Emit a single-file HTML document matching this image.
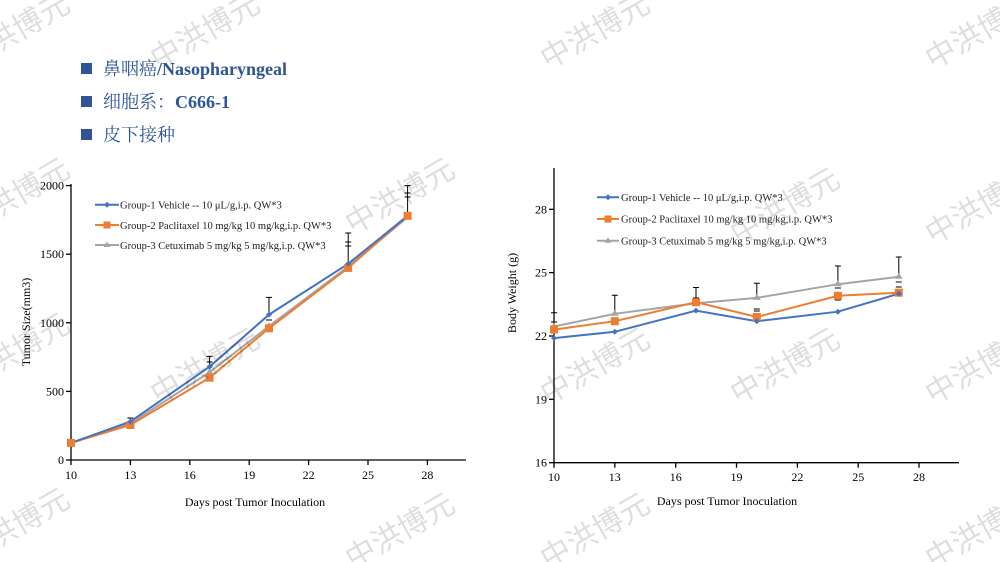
<!DOCTYPE html>
<html><head><meta charset="utf-8"><style>
html,body{margin:0;padding:0;background:#fff;}
svg{display:block;}
.wm{font-family:"Liberation Sans","Noto Sans CJK SC",sans-serif;font-size:30px;fill:#000;opacity:0.13;}
.t{font-family:"Liberation Serif","Noto Serif CJK SC",serif;font-size:12px;fill:#000;}
.lg{font-family:"Liberation Serif",serif;font-size:10.5px;fill:#222;}
.h{font-family:"Liberation Serif","Noto Serif CJK SC",serif;font-size:18px;fill:#2f5597;font-weight:bold;}
.hc{font-family:"Noto Serif CJK SC",serif;font-size:18px;fill:#2f5597;font-weight:normal;}
</style></head><body>
<svg width="1000" height="562" viewBox="0 0 1000 562" xmlns="http://www.w3.org/2000/svg">
<!-- header -->
<rect x="81" y="63" width="11" height="11" fill="#2f5597"/>
<rect x="81" y="96" width="11" height="11" fill="#2f5597"/>
<rect x="81" y="129" width="11" height="11" fill="#2f5597"/>
<text x="103" y="75" class="h"><tspan class="hc">鼻咽癌</tspan>/Nasopharyngeal</text>
<text x="103" y="108" class="h"><tspan class="hc">细胞系：</tspan>C666-1</text>
<text x="103" y="141" class="hc">皮下接种</text>

<!-- LEFT CHART -->
<g stroke="#000" stroke-width="1.3" fill="none">
<line x1="71" y1="184" x2="71" y2="460"/>
<line x1="71" y1="460" x2="466" y2="460"/>
<line x1="66" y1="460" x2="71" y2="460"/><line x1="66" y1="391.4" x2="71" y2="391.4"/><line x1="66" y1="322.8" x2="71" y2="322.8"/><line x1="66" y1="254.2" x2="71" y2="254.2"/><line x1="66" y1="185.6" x2="71" y2="185.6"/>
<line x1="71" y1="460" x2="71" y2="465"/><line x1="130.4" y1="460" x2="130.4" y2="465"/><line x1="189.8" y1="460" x2="189.8" y2="465"/><line x1="249.2" y1="460" x2="249.2" y2="465"/><line x1="308.6" y1="460" x2="308.6" y2="465"/><line x1="368" y1="460" x2="368" y2="465"/><line x1="427.4" y1="460" x2="427.4" y2="465"/>
</g>
<g class="t" text-anchor="end">
<text x="64" y="464">0</text><text x="64" y="395.4">500</text><text x="64" y="326.8">1000</text><text x="64" y="258.2">1500</text><text x="64" y="189.6">2000</text>
</g>
<g class="t" text-anchor="middle">
<text x="71" y="479">10</text><text x="130.4" y="479">13</text><text x="189.8" y="479">16</text><text x="249.2" y="479">19</text><text x="308.6" y="479">22</text><text x="368" y="479">25</text><text x="427.4" y="479">28</text>
<text x="255" y="506">Days post Tumor Inoculation</text>
<text transform="translate(30,322) rotate(-90)">Tumor Size(mm3)</text>
</g>
<!-- error bars left -->
<g stroke="#000" stroke-width="1" fill="none">
<path d="M130.4 421.6V418M127.4 418H133.4"/>
<path d="M209.6 366.7V356.4M206.6 356.4H212.6M206.6 362H212.6"/>
<path d="M269 314.6V297.4M266 297.4H272M266 320H272"/>
<path d="M348.2 263.8V233M345.2 233H351.2M345.2 242H351.2M345.2 246H351.2"/>
<path d="M407.6 215.8V185.6M404.6 185.6H410.6M404.6 193H410.6M404.6 197H410.6"/>
</g>
<polyline fill="none" stroke="#a5a5a5" stroke-width="2" points="71,442.9 130.4,423.6 209.6,372.2 269,326.2 348.2,266.5 407.6,217.2"/>
<polyline fill="none" stroke="#ed7d31" stroke-width="2" points="71,442.9 130.4,425 209.6,377.7 269,328.3 348.2,267.9 407.6,215.8"/>
<polyline fill="none" stroke="#4472c4" stroke-width="2" points="71,442.9 130.4,421.6 209.6,366.7 269,314.6 348.2,263.8 407.6,215.8"/>
<g fill="#a5a5a5"><path d="M71 439l4 6h-8z"/><path d="M130.4 419.6l4 6h-8z"/><path d="M209.6 368.2l4 6h-8z"/><path d="M269 322.2l4 6h-8z"/><path d="M348.2 262.5l4 6h-8z"/><path d="M407.6 213.2l4 6h-8z"/></g>
<g fill="#ed7d31"><rect x="67" y="438.9" width="8" height="8"/><rect x="126.4" y="421" width="8" height="8"/><rect x="205.6" y="373.7" width="8" height="8"/><rect x="265" y="324.3" width="8" height="8"/><rect x="344.2" y="263.9" width="8" height="8"/><rect x="403.6" y="211.8" width="8" height="8"/></g>
<g fill="#4472c4"><path d="M130.4 418.6l3 3-3 3-3-3z"/><path d="M209.6 363.7l3 3-3 3-3-3z"/><path d="M269 311.6l3 3-3 3-3-3z"/><path d="M348.2 260.8l3 3-3 3-3-3z"/></g>
<!-- legend left -->
<line x1="95" y1="204.7" x2="119" y2="204.7" stroke="#4472c4" stroke-width="2"/><path d="M107 201.7l3 3-3 3-3-3z" fill="#4472c4"/>
<line x1="95" y1="225" x2="119" y2="225" stroke="#ed7d31" stroke-width="2"/><rect x="103.5" y="221.5" width="7" height="7" fill="#ed7d31"/>
<line x1="95" y1="245" x2="119" y2="245" stroke="#a5a5a5" stroke-width="2"/><path d="M107 241.5l3.5 5.5h-7z" fill="#a5a5a5"/>
<text x="120" y="208.5" class="lg">Group-1 Vehicle -- 10 μL/g,i.p. QW*3</text>
<text x="120" y="228.8" class="lg">Group-2 Paclitaxel 10 mg/kg 10 mg/kg,i.p. QW*3</text>
<text x="120" y="248.8" class="lg">Group-3 Cetuximab 5 mg/kg 5 mg/kg,i.p. QW*3</text>

<!-- RIGHT CHART -->
<g stroke="#000" stroke-width="1.3" fill="none">
<line x1="554" y1="168" x2="554" y2="462.7"/>
<line x1="554" y1="462.7" x2="959" y2="462.7"/>
<line x1="549" y1="462.7" x2="554" y2="462.7"/><line x1="549" y1="399.3" x2="554" y2="399.3"/><line x1="549" y1="336" x2="554" y2="336"/><line x1="549" y1="272.6" x2="554" y2="272.6"/><line x1="549" y1="209.3" x2="554" y2="209.3"/>
<line x1="554" y1="462.7" x2="554" y2="467.7"/><line x1="614.8" y1="462.7" x2="614.8" y2="467.7"/><line x1="675.7" y1="462.7" x2="675.7" y2="467.7"/><line x1="736.5" y1="462.7" x2="736.5" y2="467.7"/><line x1="797.4" y1="462.7" x2="797.4" y2="467.7"/><line x1="858.2" y1="462.7" x2="858.2" y2="467.7"/><line x1="919" y1="462.7" x2="919" y2="467.7"/>
</g>
<g class="t" text-anchor="end">
<text x="547" y="466.7">16</text><text x="547" y="403.3">19</text><text x="547" y="340">22</text><text x="547" y="276.6">25</text><text x="547" y="213.3">28</text>
</g>
<g class="t" text-anchor="middle">
<text x="554" y="481">10</text><text x="614.8" y="481">13</text><text x="675.7" y="481">16</text><text x="736.5" y="481">19</text><text x="797.4" y="481">22</text><text x="858.2" y="481">25</text><text x="919" y="481">28</text>
<text x="727" y="505">Days post Tumor Inoculation</text>
<text transform="translate(516,293) rotate(-90)">Body Weight (g)</text>
</g>
<g stroke="#000" stroke-width="1" fill="none">
<path d="M554 326.5V312.7M551 312.7H557M551 322H557"/>
<path d="M614.8 313.8V295.3M611.8 295.3H617.8"/>
<path d="M696 303.2V287.5M693 287.5H699M693 298H699"/>
<path d="M756.8 297.9V283.3M753.8 283.3H759.8M753.8 309H759.8M753.8 311H759.8"/>
<path d="M837.9 284.2V266M834.9 266H840.9M834.9 288H840.9M834.9 300H840.9"/>
<path d="M898.8 276.8V257M895.8 257H901.8M895.8 282H901.8M895.8 287H901.8"/>
</g>
<polyline fill="none" stroke="#a5a5a5" stroke-width="2" points="554,326.5 614.8,313.8 696,303.2 756.8,297.9 837.9,284.2 898.8,276.8"/>
<polyline fill="none" stroke="#ed7d31" stroke-width="2" points="554,329.6 614.8,321.2 696,302.2 756.8,317 837.9,295.8 898.8,292.7"/>
<polyline fill="none" stroke="#4472c4" stroke-width="2" points="554,338.1 614.8,331.8 696,310.6 756.8,321.2 837.9,311.7 898.8,293.7"/>
<g fill="#a5a5a5"><path d="M554 322.5l4 6h-8z"/><path d="M614.8 309.8l4 6h-8z"/><path d="M696 299.2l4 6h-8z"/><path d="M756.8 293.9l4 6h-8z"/><path d="M837.9 280.2l4 6h-8z"/><path d="M898.8 272.8l4 6h-8z"/></g>
<g fill="#ed7d31"><rect x="550" y="325.6" width="8" height="8"/><rect x="610.8" y="317.2" width="8" height="8"/><rect x="692" y="298.2" width="8" height="8"/><rect x="752.8" y="313" width="8" height="8"/><rect x="833.9" y="291.8" width="8" height="8"/><rect x="894.8" y="288.7" width="8" height="8"/></g>
<g fill="#4472c4"><path d="M554 335.1l3 3-3 3-3-3z"/><path d="M614.8 328.8l3 3-3 3-3-3z"/><path d="M696 307.6l3 3-3 3-3-3z"/><path d="M756.8 318.2l3 3-3 3-3-3z"/><path d="M837.9 308.7l3 3-3 3-3-3z"/><path d="M898.8 290.7l3 3-3 3-3-3z"/></g>
<!-- legend right -->
<line x1="597" y1="197.3" x2="619" y2="197.3" stroke="#4472c4" stroke-width="2"/><path d="M608 194.3l3 3-3 3-3-3z" fill="#4472c4"/>
<line x1="597" y1="219" x2="619" y2="219" stroke="#ed7d31" stroke-width="2"/><rect x="604.5" y="215.5" width="7" height="7" fill="#ed7d31"/>
<line x1="597" y1="240.7" x2="619" y2="240.7" stroke="#a5a5a5" stroke-width="2"/><path d="M608 237.2l3.5 5.5h-7z" fill="#a5a5a5"/>
<text x="621" y="201" class="lg">Group-1 Vehicle -- 10 μL/g,i.p. QW*3</text>
<text x="621" y="222.7" class="lg">Group-2 Paclitaxel 10 mg/kg 10 mg/kg,i.p. QW*3</text>
<text x="621" y="244.4" class="lg">Group-3 Cetuximab 5 mg/kg 5 mg/kg,i.p. QW*3</text>

<!-- watermarks -->
<g class="wm" text-anchor="middle">
<text transform="translate(20,40) rotate(-30)">中洪博元</text>
<text transform="translate(210,40) rotate(-30)">中洪博元</text>
<text transform="translate(600,40) rotate(-30)">中洪博元</text>
<text transform="translate(985,40) rotate(-30)">中洪博元</text>
<text transform="translate(20,205) rotate(-30)">中洪博元</text>
<text transform="translate(405,205) rotate(-30)">中洪博元</text>
<text transform="translate(790,215) rotate(-30)">中洪博元</text>
<text transform="translate(985,215) rotate(-30)">中洪博元</text>
<text transform="translate(20,360) rotate(-30)">中洪博元</text>
<text transform="translate(210,375) rotate(-30)">中洪博元</text>
<text transform="translate(600,375) rotate(-30)">中洪博元</text>
<text transform="translate(790,375) rotate(-30)">中洪博元</text>
<text transform="translate(985,375) rotate(-30)">中洪博元</text>
<text transform="translate(20,535) rotate(-30)">中洪博元</text>
<text transform="translate(405,540) rotate(-30)">中洪博元</text>
<text transform="translate(600,540) rotate(-30)">中洪博元</text>
<text transform="translate(985,540) rotate(-30)">中洪博元</text>
</g>
</svg>
</body></html>
